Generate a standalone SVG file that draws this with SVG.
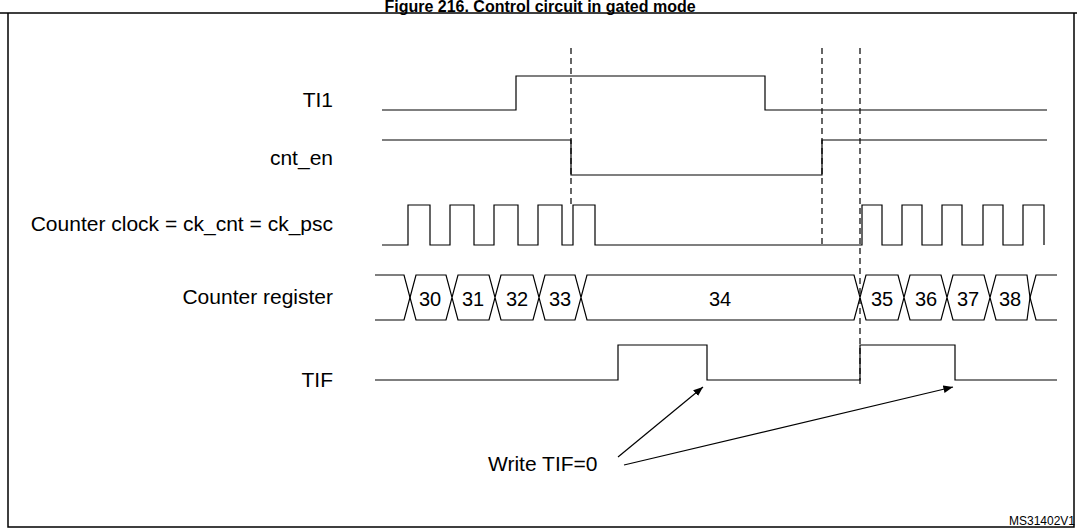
<svg xmlns="http://www.w3.org/2000/svg" width="1077" height="531" viewBox="0 0 1077 531">
<style>
text{font-family:"Liberation Sans",Arial,sans-serif;fill:#000}
.l{font-size:21px;text-anchor:end}
.n{font-size:20px;text-anchor:middle}
.w{fill:none;stroke:#000;stroke-width:1.2}
.d{fill:none;stroke:#000;stroke-width:1.2;stroke-dasharray:6,4}
</style>
<defs><marker id="a" viewBox="0 0 10 10" refX="10" refY="5" markerWidth="8" markerHeight="8" orient="auto"><path d="M0,1L10,5L0,9z" fill="#000"/></marker></defs>
<rect width="1077" height="531" fill="#fff"/>
<text x="540" y="12" font-size="16" font-weight="bold" text-anchor="middle">Figure 216. Control circuit in gated mode</text>
<path d="M0,13H1077M8,13V527H1074V13" fill="none" stroke="#000" stroke-width="1.5"/>
<g id="labels">
<text class="l" x="333" y="107">TI1</text>
<text class="l" x="333" y="165">cnt_en</text>
<text class="l" x="333" y="231">Counter clock = ck_cnt = ck_psc</text>
<text class="l" x="333" y="304">Counter register</text>
<text class="l" x="333" y="387">TIF</text>
<text x="488" y="471" font-size="21">Write TIF=0</text>
<text x="1075" y="525" font-size="12" text-anchor="end">MS31402V1</text>
</g>
<g id="waves">
<path class="w" d="M382,110H516V76H765V110H1047"/>
<path class="w" d="M382,140H571V175H822V140H1047"/>
<path class="w" d="M382,245H408V205H430V245H450V205H474V245H494V205H518V245H538V205H562V245H573V205H595V245H862V205H882V245H902V205H922V245H942V205H962V245H983V205H1003V245H1023V205H1044V245"/>
<path class="w" d="M375,275H404L410,297.5L404,320H375M1057,275H1036L1030,297.5L1036,320H1057"/>
<path class="w" d="M410,297.5L416,275H446L452,297.5L458,275H489L495,297.5L501,275H533L539,297.5L545,275H575L581,297.5L587,275H854L860,297.5L866,275H898L904,297.5L910,275H941L947,297.5L953,275H984L990,297.5L996,275H1027L1030,297.5L1027,320H996L990,297.5L984,320H953L947,297.5L941,320H910L904,297.5L898,320H866L860,297.5L854,320H587L581,297.5L575,320H545L539,297.5L533,320H501L495,297.5L489,320H458L452,297.5L446,320H416Z"/>
<text class="n" x="430" y="306">30</text><text class="n" x="473" y="306">31</text><text class="n" x="517" y="306">32</text><text class="n" x="560" y="306">33</text>
<text class="n" x="720" y="306">34</text><text class="n" x="882" y="306">35</text><text class="n" x="926" y="306">36</text><text class="n" x="968" y="306">37</text><text class="n" x="1010" y="306">38</text>
<path class="w" d="M375,380H618V345H707V380H860V345H955V380H1057"/>
</g>
<g id="connectors">
<path class="d" d="M571,48V205M822,48V245M860,48V385"/>
<path class="w" d="M618,457L703,387" marker-end="url(#a)"/>
<path class="w" d="M624,465L953,387" marker-end="url(#a)"/>
</g>
</svg>
